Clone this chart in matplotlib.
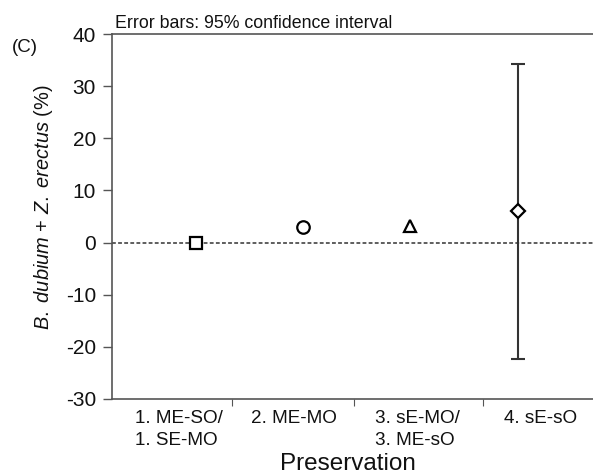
import matplotlib
matplotlib.use("Agg")
import matplotlib.pyplot as plt
import matplotlib.transforms as mtransforms

plt.rcParams['font.family'] = ['Liberation Sans', 'DejaVu Sans']
plt.rcParams['mathtext.fontset'] = 'custom'
plt.rcParams['mathtext.rm'] = 'Liberation Sans'
plt.rcParams['mathtext.it'] = 'Liberation Sans:italic'

# Data
categories = ["1. ME-SO/\n1. SE-MO", "2. ME-MO", "3. sE-MO/\n3. ME-sO", "4. sE-sO"]
x_pos = [1, 2, 3, 4]
means = [0.0, 3.0, 3.1, 6.1]
ci_low = [0.0, 3.0, 3.1, -22.3]
ci_high = [0.0, 3.0, 3.1, 34.3]
markers = ['s', 'o', '^', 'D']
yticks = [-30, -20, -10, 0, 10, 20, 30, 40]

dark = '#333333'
spine_c = '#555555'
txt_c = '#111111'

W, H = 593, 474
fig = plt.figure(figsize=(W / 100, H / 100), dpi=100)
ax = fig.add_axes([112 / W, 75 / H, 1 - 112 / W, (399 - 34) / H])

ax.set_xlim(0.22, 4.70)
ax.set_ylim(-30, 40)

ax.axhline(0, color=dark, lw=1.1, ls=(0, (2.5, 1.5)), zorder=1)

for xi, m, lo, hi, mk in zip(x_pos, means, ci_low, ci_high, markers):
    if hi - lo > 0.5:
        ax.errorbar([xi], [m], yerr=[[m - lo], [hi - m]], fmt='none',
                    ecolor=dark, elinewidth=1.5, capsize=5, capthick=1.5, zorder=2)
    ms = {'s': 9, 'o': 9, '^': 9, 'D': 7}[mk]
    ax.plot([xi], [m], marker=mk, ms=ms, mfc='white', mec='black', mew=1.6,
            ls='none', zorder=3)

ax.spines['right'].set_visible(False)
for s in ['left', 'top', 'bottom']:
    ax.spines[s].set_color(spine_c)
    ax.spines[s].set_linewidth(1.2)

ax.set_yticks(yticks)
ax.set_yticklabels([str(t) for t in yticks])
ax.tick_params(axis='y', direction='out', length=6.5, width=1.0, color=spine_c,
               labelsize=15, pad=5, labelcolor=txt_c)

# category separators on x axis
ax.set_xticks([1.336, 2.472, 3.675])
ax.set_xticklabels([])
ax.tick_params(axis='x', direction='out', length=5, width=0.8, color=spine_c)

label_x = [0.431, 1.513, 2.669, 3.870]
trans = mtransforms.blended_transform_factory(ax.transData, fig.transFigure)
for lx, lab in zip(label_x, categories):
    for i, line in enumerate(lab.split('\n')):
        ax.text(lx, 1 - (423 + 22 * i) / H, line, transform=trans, ha='left',
                va='baseline', fontsize=13.6, color=txt_c)

fig.text(348 / W, 1 - 470 / H, "Preservation", ha='center', va='baseline',
         fontsize=17.5, color=txt_c)

fig.text(44 / W, 1 - 207 / H,
         r'$\it{B.\ dubium}$ + $\it{Z.\ erectus}$ (%)', rotation=90,
         ha='center', va='center', fontsize=14.4, color=txt_c)

fig.text(115 / W, 1 - 28 / H, "Error bars: 95% confidence interval",
         ha='left', va='baseline', fontsize=12.8, color=txt_c)
fig.text(12 / W, 1 - 47 / H, "(C)", ha='left', va='center', fontsize=13.5,
         color=txt_c)

fig.savefig('out.png', dpi=100)
